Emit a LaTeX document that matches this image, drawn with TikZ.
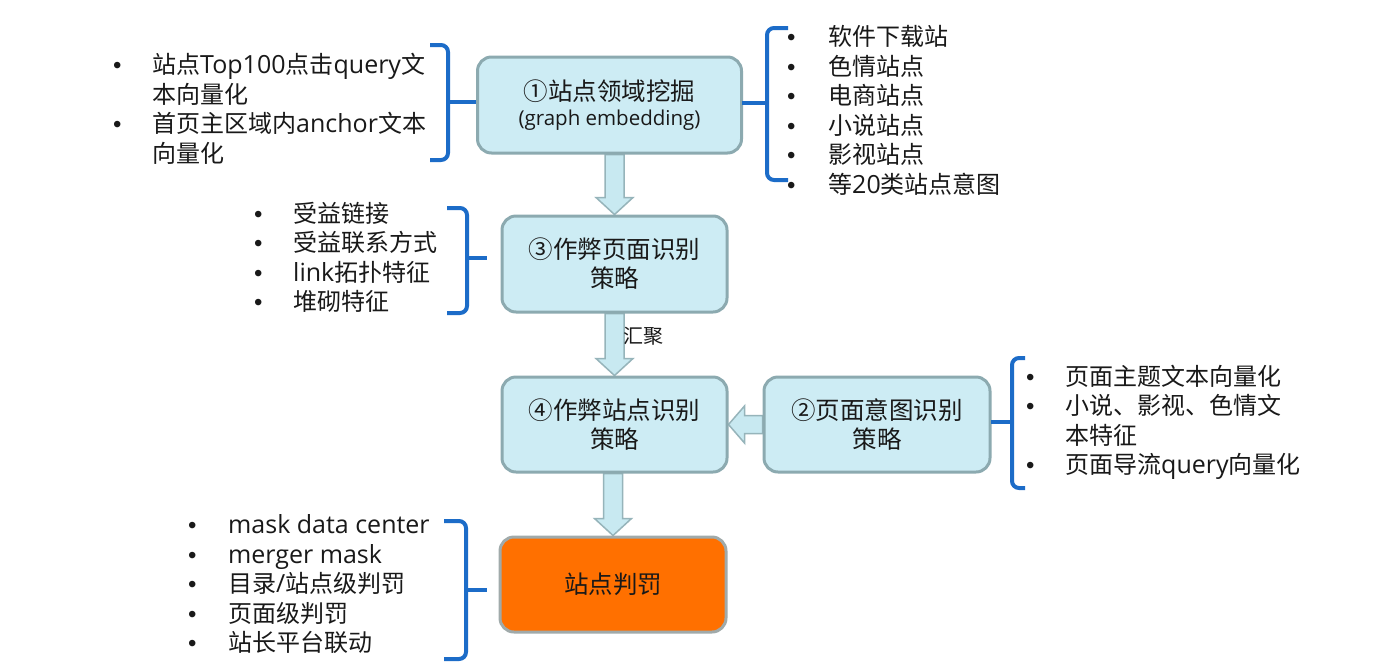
\documentclass[tikz,border=0pt]{standalone}
\usepackage{fontspec}
\setmainfont{Noto Sans CJK SC}
\newfontfamily\bulletfont{Liberation Sans}
\newfontfamily\latfont{Open Sans}
\newcommand\lat[1]{{\latfont\fontsize{25}{29.5}\selectfont #1}}
\usetikzlibrary{calc,backgrounds}
\definecolor{boxfill}{RGB}{205,236,244}
\definecolor{boxline}{RGB}{140,170,176}
\definecolor{arrowfill}{RGB}{200,233,241}
\definecolor{arrowline}{RGB}{150,180,186}
\definecolor{bracecol}{RGB}{28,108,200}
\definecolor{orangefill}{RGB}{255,112,0}
\definecolor{orangeline}{RGB}{160,170,170}
\definecolor{txt}{RGB}{25,25,25}
\newcommand\bitem[2]{\makebox[#1][l]{\bulletfont •}#2}
\newcommand\bcont[2]{\hspace*{#1}#2}
\newcommand\vblockarrow[2]{%
  \draw[barrow] (#2.north) -- ++(-18.5,-17) -- ++(9,0)
    -- ($(#2.north |- #1.south)+(-9.5,0)$) -- ($(#2.north |- #1.south)+(9.5,0)$)
    -- ($(#2.north)+(9.5,-17)$) -- ++(9,0) -- cycle;}
\begin{document}
\begin{tikzpicture}[x=1pt,y=-1pt,
  box/.style={draw=boxline, line width=3pt, fill=boxfill, rounded corners=14pt,
    inner sep=0pt, align=center, text=txt, font=\fontsize{24.5}{29}\selectfont},
  penalty/.style={box, fill=orangefill, draw=orangeline},
  barrow/.style={draw=arrowline, line width=1.5pt, fill=arrowfill, line join=miter},
  brace/.style={draw=bracecol, line width=4pt, rounded corners=7pt},
  tip/.style={draw=bracecol, line width=4pt},
  list/.style={anchor=west, inner sep=0pt, align=left, text=txt, font=\fontsize{24}{29.5}\selectfont},
  lbl/.style={inner sep=0pt, text=txt, font=\fontsize{20}{24}\selectfont}]
\useasboundingbox (0,0) rectangle (1383,670);

% boxes
\node[box, minimum width=264pt, minimum height=96pt] (b1) at (609.5,105)
  {①站点领域挖掘\\[-4pt]{\latfont\fontsize{20.5}{22}\selectfont (graph embedding)}};
\node[box, minimum width=225pt, minimum height=96pt] (b3) at (614.5,264) {③作弊页面识别\\策略};
\node[box, minimum width=225pt, minimum height=95pt] (b4) at (614.5,424.5) {④作弊站点识别\\策略};
\node[box, minimum width=226pt, minimum height=95pt] (b2) at (877,424.5) {②页面意图识别\\策略};
\node[penalty, minimum width=226pt, minimum height=95pt] (b5) at (613,584.5) {站点判罚};

% arrows
\begin{scope}[on background layer]
\fill[white] (0,0) rectangle (1383,670);
\vblockarrow{b1}{b3}
\vblockarrow{b3}{b4}
\vblockarrow{b4}{b5}
\draw[barrow] (b4.east) -- ++(16,-18.5) -- ++(0,9.5) -- ($(b2.west)+(0,-9)$)
  -- ($(b2.west)+(0,9)$) -- ($(b4.east)+(16,9)$) -- ++(0,9.5) -- cycle;
\end{scope}
\node[lbl] (hj) at (643,336) {汇聚};

% lists
\node[list] (l1) at (113,109) {\bitem{39pt}{站点\lat{Top100}点击\lat{query}文}\\\bcont{39pt}{本向量化}\\\bitem{39pt}{首页主区域内\lat{anchor}文本}\\\bcont{39pt}{向量化}};
\node[list] (r1) at (787,110.5) {\bitem{41pt}{软件下载站}\\\bitem{41pt}{色情站点}\\\bitem{41pt}{电商站点}\\\bitem{41pt}{小说站点}\\\bitem{41pt}{影视站点}\\\bitem{41pt}{等\lat{20}类站点意图}};
\node[list] (l3) at (254,257.5) {\bitem{39pt}{受益链接}\\\bitem{39pt}{受益联系方式}\\\bitem{39pt}{\lat{link}拓扑特征}\\\bitem{39pt}{堆砌特征}};
\node[list] (r2) at (1026,422.5) {\bitem{39pt}{页面主题文本向量化}\\\bitem{39pt}{小说、影视、色情文}\\\bcont{39pt}{本特征}\\\bitem{39pt}{页面导流\lat{query}向量化}};
\node[list] (l5) at (188,584.5) {\bitem{40pt}{\lat{mask data center}}\\\bitem{40pt}{\lat{merger mask}}\\\bitem{40pt}{目录\lat{/}站点级判罚}\\\bitem{40pt}{页面级判罚}\\\bitem{40pt}{站长平台联动}};

% braces
\draw[brace] (430,45) -- (448,45) -- (448,160) -- (430,160);
\draw[tip] (448,102) -- (476,102);
\draw[brace] (788,28) -- (767,28) -- (767,180) -- (788,180);
\draw[tip] (767,103) -- (742,103);
\draw[brace] (447,208) -- (467,208) -- (467,313) -- (447,313);
\draw[tip] (467,258) -- (487,258);
\draw[brace] (1025,358) -- (1012,358) -- (1012,488) -- (1025,488);
\draw[tip] (1012,422) -- (991,422);
\draw[brace] (444,521) -- (466,521) -- (466,659) -- (444,659);
\draw[tip] (466,590) -- (487,590);
\end{tikzpicture}
\end{document}
